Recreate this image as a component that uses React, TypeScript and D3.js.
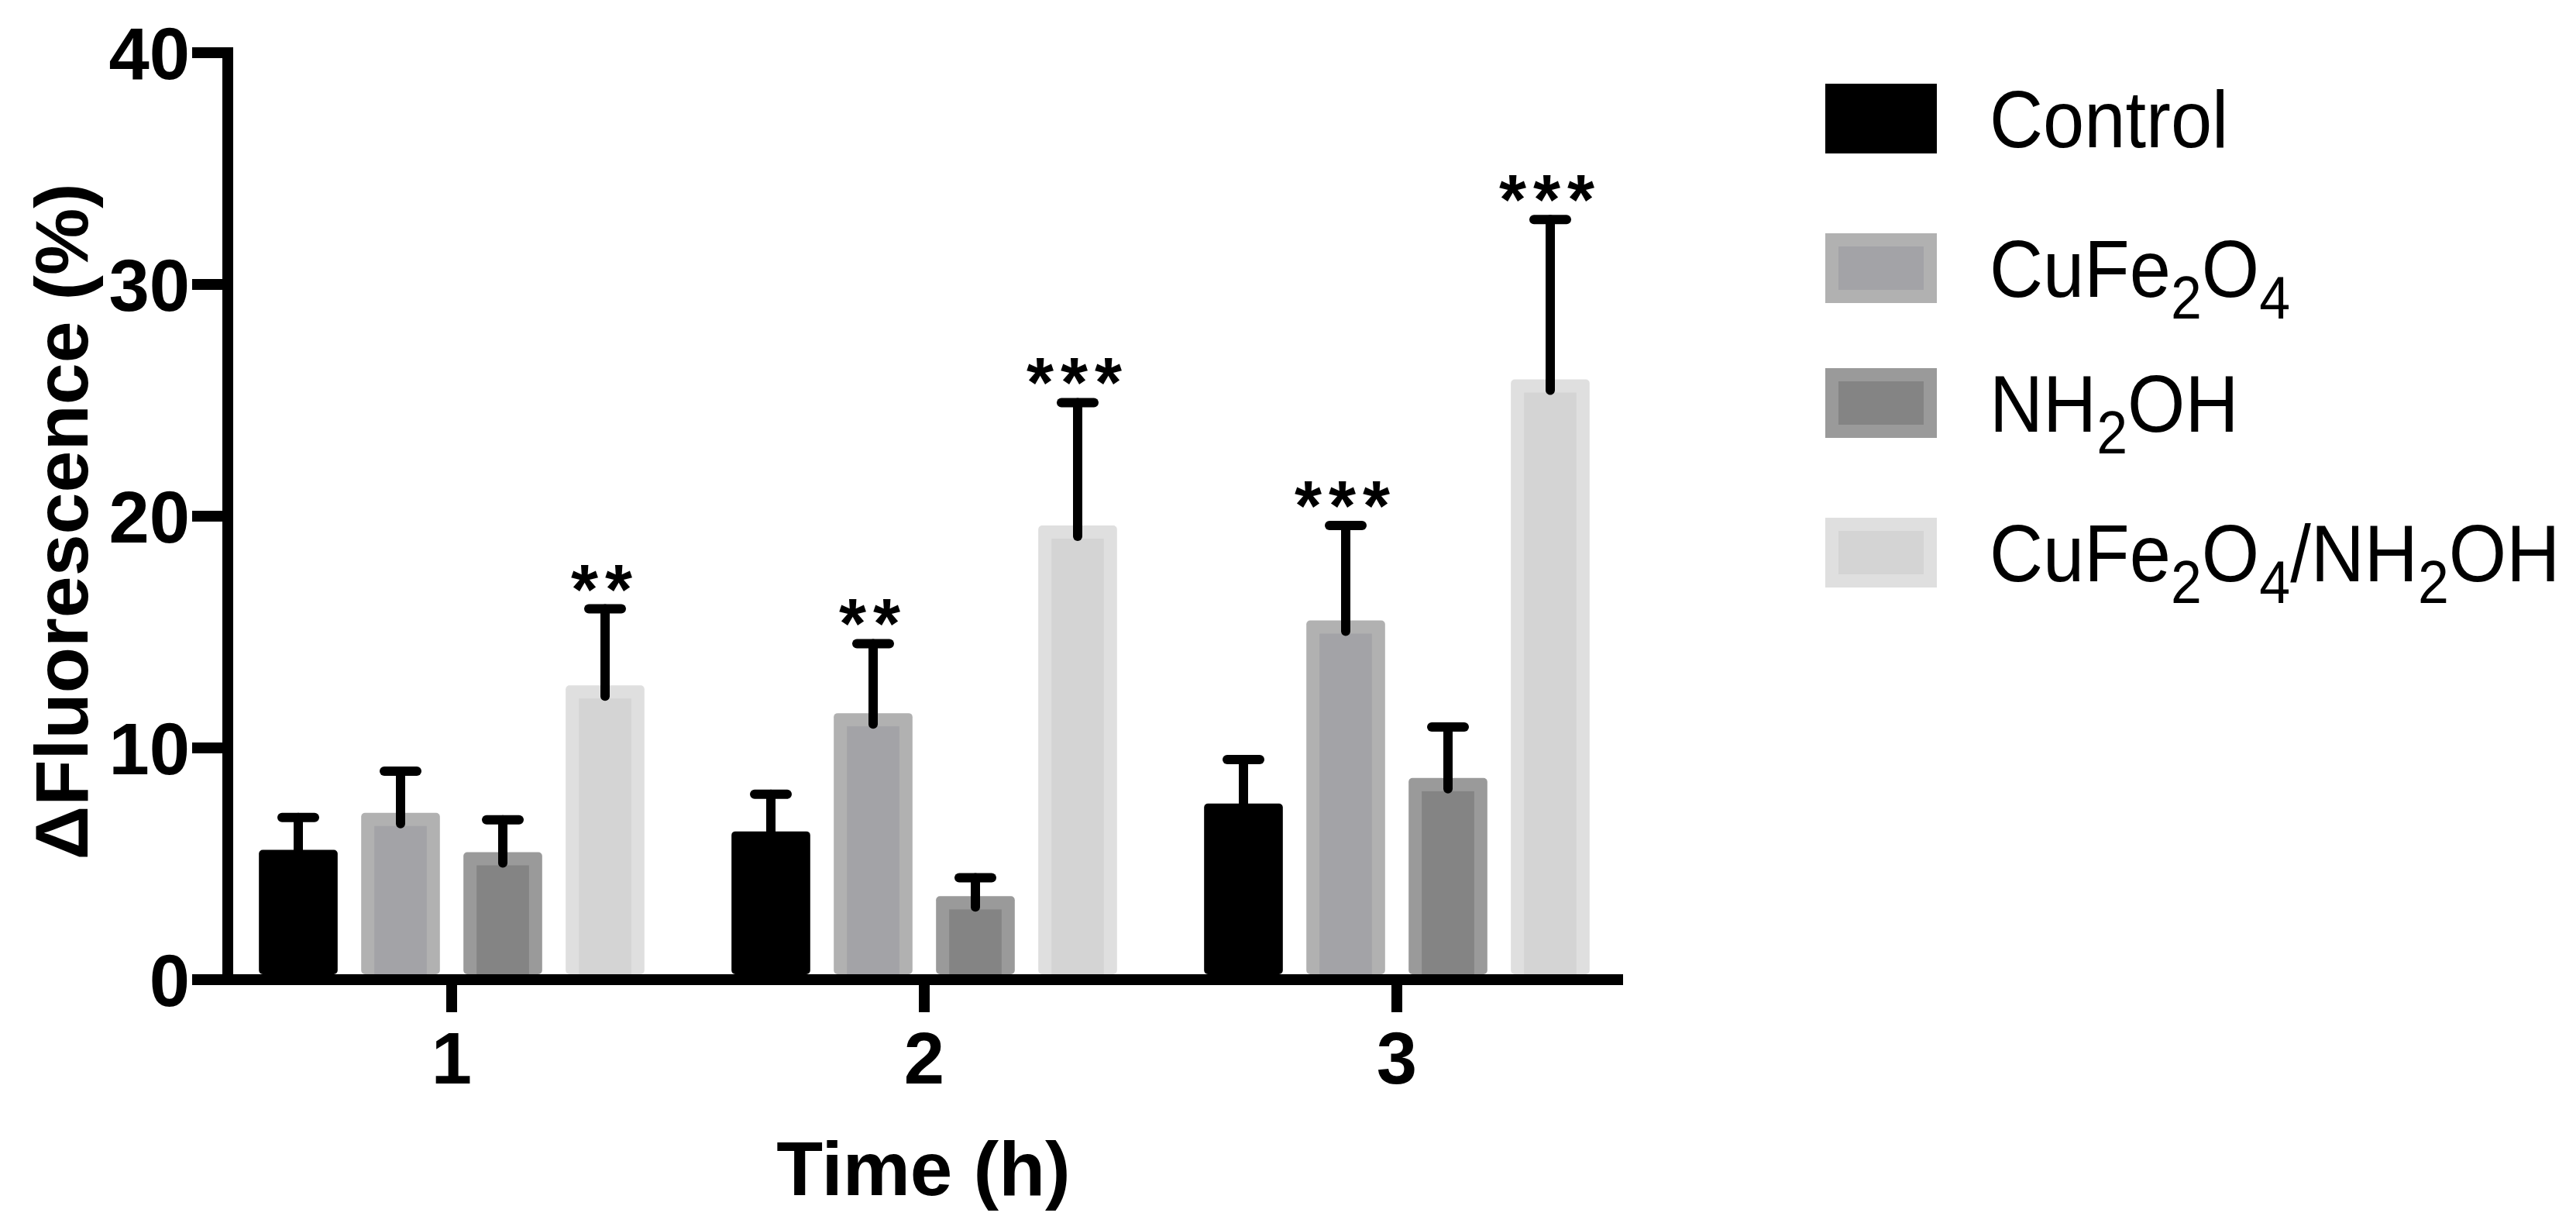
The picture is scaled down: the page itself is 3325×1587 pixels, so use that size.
import React, { useEffect } from 'react';
import * as d3 from 'd3';

const timePoints = ['1', '2', '3'];
const seriesKeys = ['control', 'cufe', 'nh2oh', 'combo'];
const controlMean = [5.6, 6.4, 7.6];
const controlSD = [1.4, 1.6, 1.9];
const cufeMean = [7.2, 11.5, 15.5];
const cufeSD = [1.8, 3.0, 4.1];
const nh2ohMean = [5.5, 3.6, 8.7];
const nh2ohSD = [1.4, 0.8, 2.2];
const comboMean = [12.7, 19.6, 25.9];
const comboSD = [3.3, 5.3, 6.9];
const comboSig = ['**', '***', '***'];
const cufeSig = ['', '**', '***'];
const yTicks = [0, 10, 20, 30, 40];

const innerColors = ['#000000', '#a3a3a7', '#848484', '#d4d4d4'];
const outerColors = ['#000000', '#b1b1b1', '#9a9a9a', '#dfdfdf'];

const W = 3325;
const H = 1587;
const axisX = 294;
const axisRight = 2095;
const yTop = 68;
const yZero = 1264;
const FONT = "'Liberation Sans', Arial, Helvetica, sans-serif";

export default function App() {
  useEffect(() => {
    document.body.style.margin = '0';
  }, []);

  const means = [controlMean, cufeMean, nh2ohMean, comboMean];
  const sds = [controlSD, cufeSD, nh2ohSD, comboSD];
  const sigs = [['', '', ''], cufeSig, ['', '', ''], comboSig];

  const y = d3.scaleLinear().domain([0, 40]).range([yZero, yTop]);
  const x0 = d3.scaleBand<string>().domain(timePoints).range([278, 2108]).paddingInner(0).paddingOuter(0);
  const groupW = 528;
  const x1 = d3.scaleBand<string>().domain(seriesKeys).range([-groupW / 2, groupW / 2]).paddingInner(0.23).paddingOuter(0.115);
  const bw = x1.bandwidth();
  const border = 17;
  const axisStroke = 14;
  const center = (t: string) => (x0(t) as number) + x0.bandwidth() / 2;

  const bars: React.ReactNode[] = [];
  const errs: React.ReactNode[] = [];
  const stars: React.ReactNode[] = [];
  timePoints.forEach((t, gi) => {
    const cx = center(t);
    seriesKeys.forEach((k, si) => {
      const m = means[si][gi];
      const sd = sds[si][gi];
      const bx = cx + (x1(k) as number);
      const top = y(m);
      const bottom = yZero - axisStroke / 2;
      bars.push(
        <g key={`b${gi}${si}`}>
          <rect x={bx} y={top} width={bw} height={bottom - top} fill={outerColors[si]} rx={5} />
          <rect x={bx + border} y={top + border} width={bw - 2 * border} height={Math.max(0, bottom - top - border)} fill={innerColors[si]} />
        </g>
      );
      const ex = bx + bw / 2;
      const eTop = y(m + sd);
      errs.push(
        <g key={`e${gi}${si}`} stroke="#000" strokeWidth={12} strokeLinecap="round">
          <line x1={ex} x2={ex} y1={top + 14} y2={eTop} />
          <line x1={ex - 21} x2={ex + 21} y1={eTop} y2={eTop} />
        </g>
      );
      const s = sigs[si][gi];
      if (s) {
        stars.push(
          <text key={`s${gi}${si}`} x={ex} y={eTop + 6} textAnchor="middle" fontFamily={FONT} fontWeight="bold" fontSize={90} letterSpacing={9}>
            {s}
          </text>
        );
      }
    });
  });

  const sub = (s: string) => (
    <>
      <tspan fontSize="75%" dy={28}>{s}</tspan>
    </>
  );
  const legendNames: React.ReactNode[] = [
    <tspan>Control</tspan>,
    <>
      <tspan>CuFe</tspan>{sub('2')}<tspan dy={-28}>O</tspan>{sub('4')}
    </>,
    <>
      <tspan>NH</tspan>{sub('2')}<tspan dy={-28}>OH</tspan>
    </>,
    <>
      <tspan>CuFe</tspan>{sub('2')}<tspan dy={-28}>O</tspan>{sub('4')}<tspan dy={-28}>/NH</tspan>{sub('2')}<tspan dy={-28}>OH</tspan>
    </>,
  ];
  const legendY = [153, 346, 520, 713];

  return (
    <svg width={W} height={H} viewBox={`0 0 ${W} ${H}`} style={{ display: 'block', background: '#fff' }}>
      <rect x={0} y={0} width={W} height={H} fill="#fff" />
      {bars}
      {errs}
      {stars}
      <g stroke="#000" strokeWidth={axisStroke} strokeLinecap="butt">
        <line x1={axisX} x2={axisX} y1={yTop - axisStroke / 2} y2={yZero + axisStroke / 2} />
        <line x1={axisX - axisStroke / 2} x2={axisRight} y1={yZero} y2={yZero} />
        {yTicks.map((v) => (
          <line key={`yt${v}`} x1={248} x2={axisX} y1={y(v)} y2={y(v)} />
        ))}
        {timePoints.map((t) => (
          <line key={`xt${t}`} x1={center(t)} x2={center(t)} y1={yZero} y2={yZero + 42} />
        ))}
      </g>
      {yTicks.map((v) => (
        <text key={`yl${v}`} x={245} y={y(v)} dy="0.36em" textAnchor="end" fontFamily={FONT} fontWeight="bold" fontSize={94}>
          {v}
        </text>
      ))}
      {timePoints.map((t) => (
        <text key={`xl${t}`} x={center(t)} y={1398} textAnchor="middle" fontFamily={FONT} fontWeight="bold" fontSize={94}>
          {t}
        </text>
      ))}
      <text x={1192} y={1542} textAnchor="middle" fontFamily={FONT} fontWeight="bold" fontSize={98}>
        Time (h)
      </text>
      <text transform="translate(78,673) rotate(-90)" textAnchor="middle" dy="0.36em" fontFamily={FONT} fontWeight="bold" fontSize={97}>
        ΔFluorescence (%)
      </text>
      {legendNames.map((n, i) => (
        <g key={`lg${i}`}>
          <rect x={2356} y={legendY[i] - 45} width={144} height={90} fill={outerColors[i]} />
          <rect x={2356 + 17} y={legendY[i] - 45 + 17} width={144 - 34} height={90 - 34} fill={innerColors[i]} />
          <g transform={`translate(2568,${legendY[i]}) scale(0.92,1)`}>
            <text x={0} y={0} dy="0.36em" fontFamily={FONT} fontSize={104}>
              {n}
            </text>
          </g>
        </g>
      ))}
    </svg>
  );
}
